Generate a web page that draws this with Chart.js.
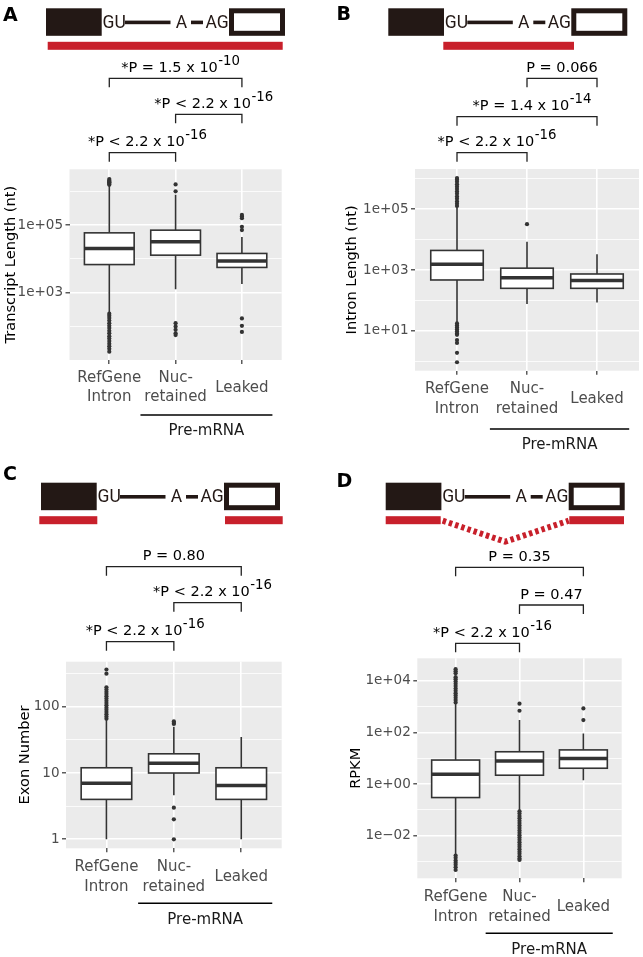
<!DOCTYPE html>
<html>
<head>
<meta charset="utf-8">
<script src="https://cdn.jsdelivr.net/npm/chart.js@4.4.1/dist/chart.umd.min.js"></script>
<style>
  html, body { margin: 0; padding: 0; background: #fff; }
  #figure { position: relative; width: 643px; height: 957px; overflow: hidden; }
  #figure canvas { position: absolute; left: 0; top: 0; }
</style>
</head>
<body>
<div id="figure">
  <canvas id="panelA" width="643" height="957"></canvas>
  <canvas id="panelB" width="643" height="957"></canvas>
  <canvas id="panelC" width="643" height="957"></canvas>
  <canvas id="panelD" width="643" height="957"></canvas>
</div>
<script>
// Categories shared by all four panels
const categoryLabels = [['RefGene', 'Intron'], ['Nuc-', 'retained'], ['Leaked']];

// A - transcript length (nt)
const transcriptLow = [263, 1260, 1820];
const transcriptQ1 = [6800, 12900, 5600];
const transcriptMedian = [20400, 32400, 8700];
const transcriptQ3 = [59000, 70800, 14500];
const transcriptHigh = [1.5e6, 7.9e5, 44700];
const transcriptOutliers = [
    [1.55e6, 1.65e6, 1.75e6, 1.85e6, 1.95e6, 2.1e6, 2.3e6,
     240, 210, 180, 150, 125, 105, 90, 75, 63, 52, 44, 37, 31, 26, 22, 18],
    [1.0e6, 1.6e6, 126, 100, 80, 63, 56],
    [7.1e4, 8.9e4, 1.6e5, 1.8e5, 2.0e5, 174, 105, 69]
];
const transcriptTicks = [1e3, 1e5];
const transcriptTickLabels = ['1e+03', '1e+05'];
const transcriptMinor = [1e2, 1e4, 1e6];
const transcriptTests = [[1, 3, '*P = 1.5 x 10', '-10'], [2, 3, '*P < 2.2 x 10', '-16'], [1, 2, '*P < 2.2 x 10', '-16']];

// B - intron length (nt)
const intronLow = [19, 76, 85];
const intronQ1 = [470, 250, 250];
const intronMedian = [1550, 560, 450];
const intronQ3 = [4400, 1150, 740];
const intronHigh = [1.1e5, 8500, 3300];
const intronOutliers = [
    [1.26e5, 1.5e5, 1.8e5, 2.2e5, 2.6e5, 3.2e5, 3.8e5, 4.6e5, 5.5e5, 6.6e5, 7.9e5, 9.3e5, 1.05e6,
     17.5, 15, 13, 11, 9.5, 8.2, 7.4, 5, 4, 1.9, 0.93],
    [3.2e4],
    []
];
const intronTicks = [10, 1e3, 1e5];
const intronTickLabels = ['1e+01', '1e+03', '1e+05'];
const intronMinor = [1, 100, 1e4, 1e6];
const intronTests = [[2, 3, 'P = 0.066', ''], [1, 3, '*P = 1.4 x 10', '-14'], [1, 2, '*P < 2.2 x 10', '-16']];

// C - exon number
const exonLow = [1, 4.6, 1];
const exonQ1 = [4, 10, 4];
const exonMedian = [7, 14, 6.5];
const exonQ3 = [12, 19.5, 12];
const exonHigh = [63, 50, 35];
const exonOutliers = [
    [66, 71, 77, 83, 90, 97, 105, 114, 123, 133, 144, 156, 168, 182, 197, 316, 365],
    [55, 57, 60, 3, 2, 1],
    []
];
const exonTicks = [1, 10, 100];
const exonTickLabels = ['1', '10', '100'];
const exonMinor = [3.162, 31.62, 316.2];
const exonTests = [[1, 3, 'P = 0.80', ''], [2, 3, '*P < 2.2 x 10', '-16'], [1, 2, '*P < 2.2 x 10', '-16']];

// D - RPKM
const rpkmLow = [0.0019, 0.1, 1.4];
const rpkmQ1 = [0.3, 2.2, 4.1];
const rpkmMedian = [2.4, 7.8, 9.8];
const rpkmQ3 = [8.5, 17.8, 21];
const rpkmHigh = [1300, 300, 91];
const rpkmOutliers = [
    [1450, 1800, 2200, 2700, 3300, 4100, 5000, 6200, 7600, 9300, 11500, 13800, 19500, 23400, 28000,
     0.0017, 0.0014, 0.0011, 0.0009, 0.00075, 0.0006, 0.00047],
    [690, 1300, 0.088, 0.072, 0.058, 0.047, 0.038, 0.031, 0.025, 0.02, 0.016, 0.013, 0.0105,
     0.0085, 0.0069, 0.0056, 0.0045, 0.0037, 0.003, 0.0024, 0.002, 0.0016, 0.0013, 0.00115],
    [300, 850]
];
const rpkmTicks = [0.01, 1, 100, 1e4];
const rpkmTickLabels = ['1e\u221202', '1e+00', '1e+02', '1e+04'];
const rpkmMinor = [1e-3, 0.1, 10, 1000];
const rpkmTests = [[1, 3, 'P = 0.35', ''], [2, 3, 'P = 0.47', ''], [1, 2, '*P < 2.2 x 10', '-16']];

const FONT = '"DejaVu Sans", Verdana, sans-serif';
const INK = '#231815';
const RED = '#C8202B';
const BOX = '#333333';
const X_AXIS_H = 60;
const TITLE_SIZE = 14.6;

// Gene model cartoon above each panel
function drawDiagram(ctx, d) {
    const L = d.x, T = d.y;
    ctx.save();
    ctx.fillStyle = INK;
    ctx.fillRect(L, T, 55.7, 27.5);
    ctx.strokeStyle = INK;
    ctx.lineWidth = 5;
    ctx.strokeRect(L + 183 + 2.5, T + 2.5, 56 - 5, 27.5 - 5);
    ctx.font = '17.5px Roboto';
    ctx.textBaseline = 'middle';
    ctx.textAlign = 'left';
    ctx.fillText('GU', L + 56.5, T + 15);
    ctx.fillRect(L + 79, T + 12.3, 45.5, 3.6);
    ctx.textAlign = 'center';
    ctx.fillText('A', L + 135.5, T + 15);
    ctx.fillRect(L + 145, T + 12.3, 12, 3.6);
    ctx.textAlign = 'left';
    ctx.fillText('AG', L + 159.5, T + 15);
    ctx.fillStyle = RED;
    d.red.forEach(([a, b]) => ctx.fillRect(L + a, T + 33.5, b - a, 8));
    if (d.spliced) {
        ctx.strokeStyle = RED;
        ctx.lineWidth = 6;
        ctx.setLineDash([3.5, 3]);
        ctx.beginPath();
        ctx.moveTo(L + 57, T + 38);
        ctx.lineTo(L + 119.5, T + 59);
        ctx.lineTo(L + 183, T + 38);
        ctx.stroke();
    }
    ctx.restore();
}

function drawPText(ctx, cx, baseY, main, sup) {
    ctx.font = '14.5px ' + FONT;
    const w1 = ctx.measureText(main).width;
    ctx.font = '13.3px ' + FONT;
    const w2 = sup ? ctx.measureText(sup).width + 0.5 : 0;
    const left = cx - (w1 + w2) / 2 + (sup ? 5 : 0);
    ctx.textAlign = 'left';
    ctx.textBaseline = 'alphabetic';
    ctx.font = '14.5px ' + FONT;
    ctx.fillText(main, left, baseY);
    if (sup) {
        ctx.font = '13.3px ' + FONT;
        ctx.fillText(sup, left + w1 + 0.5, baseY - 7);
    }
}

const decor = {
    id: 'decor',
    beforeDraw(chart) {
        const {ctx, chartArea: a} = chart;
        ctx.save();
        ctx.fillStyle = '#EBEBEB';
        ctx.fillRect(a.left, a.top, a.right - a.left, a.bottom - a.top);
        ctx.restore();
    },
    beforeDatasetsDraw(chart, args, o) {
        const {ctx, scales: {x, y}} = chart;
        const s = o.stats;
        ctx.save();
        ctx.strokeStyle = BOX;
        s.median.forEach((m, i) => {
            const cx = x.getPixelForValue(i + 1);
            const x0 = x.getPixelForValue(i + 1 - 0.375);
            const x1 = x.getPixelForValue(i + 1 + 0.375);
            const yLo = y.getPixelForValue(s.low[i]);
            const yQ1 = y.getPixelForValue(s.q1[i]);
            const yMed = y.getPixelForValue(m);
            const yQ3 = y.getPixelForValue(s.q3[i]);
            const yHi = y.getPixelForValue(s.high[i]);
            ctx.lineWidth = 1.6;
            ctx.beginPath();
            ctx.moveTo(cx, yLo); ctx.lineTo(cx, yQ1);
            ctx.moveTo(cx, yQ3); ctx.lineTo(cx, yHi);
            ctx.stroke();
            ctx.fillStyle = '#fff';
            ctx.fillRect(x0, yQ3, x1 - x0, yQ1 - yQ3);
            ctx.strokeRect(x0, yQ3, x1 - x0, yQ1 - yQ3);
            ctx.lineWidth = 3.5;
            ctx.beginPath();
            ctx.moveTo(x0, yMed); ctx.lineTo(x1, yMed);
            ctx.stroke();
        });
        ctx.restore();
    },
    afterDraw(chart, args, o) {
        const {ctx, scales: {x}} = chart;
        ctx.save();
        // panel letter
        ctx.fillStyle = '#000';
        ctx.font = 'bold 19px ' + FONT;
        ctx.textAlign = 'left';
        ctx.textBaseline = 'alphabetic';
        ctx.fillText(o.letter, o.letterX, o.letterY);
        drawDiagram(ctx, o.diagram);

        // significance brackets
        ctx.strokeStyle = '#222';
        ctx.fillStyle = '#000';
        ctx.lineWidth = 1.3;
        o.tests.forEach(([g1, g2, main, sup], k) => {
            const xa = x.getPixelForValue(g1);
            const xb = x.getPixelForValue(g2);
            const by = o.bracketY[k];
            ctx.beginPath();
            ctx.moveTo(xa, by + 9); ctx.lineTo(xa, by); ctx.lineTo(xb, by); ctx.lineTo(xb, by + 9);
            ctx.stroke();
            drawPText(ctx, (xa + xb) / 2, by - 6.5, main, sup);
        });

        // Pre-mRNA grouping line
        const p0 = x.getPixelForValue(1.47), p1 = x.getPixelForValue(3.46);
        ctx.strokeStyle = '#000';
        ctx.lineWidth = 1.5;
        ctx.beginPath();
        ctx.moveTo(p0, o.preY); ctx.lineTo(p1, o.preY);
        ctx.stroke();
        ctx.font = '15px ' + FONT;
        ctx.textAlign = 'center';
        ctx.textBaseline = 'middle';
        ctx.fillStyle = '#1a1a1a';
        ctx.fillText('Pre-mRNA', (p0 + p1) / 2, o.preY + 16.5);
        ctx.restore();
    }
};

function makePanel(p) {
    const titleLH = TITLE_SIZE * 1.2;
    const yW = p.area.l - (p.titleX - titleLH / 2);
    const allTicks = p.majors.concat(p.minors).sort((a, b) => a - b);
    const isMajor = (c) => c.tick && p.majors.includes(c.tick.value);
    const points = p.outliers.flatMap((vals, i) => vals.map(v => ({x: i + 1, y: v})));

    new Chart(document.getElementById(p.id), {
        type: 'scatter',
        data: {
            datasets: [{
                data: points,
                pointRadius: 2.1,
                pointBackgroundColor: BOX,
                pointBorderWidth: 0
            }]
        },
        plugins: [decor],
        options: {
            responsive: false,
            animation: false,
            devicePixelRatio: 1,
            events: [],
            layout: {
                padding: {
                    left: p.area.l - yW,
                    top: p.area.t,
                    right: 643 - p.area.r,
                    bottom: 957 - p.area.b - X_AXIS_H
                }
            },
            plugins: {
                legend: {display: false},
                tooltip: {enabled: false},
                decor: {
                    stats: p.stats,
                    letter: p.letter, letterX: p.letterX, letterY: p.letterY,
                    diagram: p.diagram,
                    tests: p.tests,
                    bracketY: p.bracketY,
                    preY: p.preY
                }
            },
            scales: {
                x: {
                    type: 'linear',
                    min: 0.4,
                    max: 3.6,
                    bounds: 'data',
                    afterBuildTicks: (s) => { s.ticks = [1, 2, 3].map(v => ({value: v})); },
                    afterFit: (s) => { s.height = X_AXIS_H; },
                    border: {display: false},
                    grid: {
                        color: '#ffffff',
                        lineWidth: 1.6,
                        tickColor: BOX,
                        tickWidth: 1.2,
                        tickLength: 4
                    },
                    ticks: {
                        autoSkip: false,
                        maxRotation: 0,
                        padding: 18.4 - 4 - 7.5 * p.lineHeight,
                        color: '#4D4D4D',
                        font: (c) => ({
                            family: FONT,
                            size: 15,
                            lineHeight: categoryLabels[c.index] && categoryLabels[c.index].length === 1 ? p.lineHeight * 2 : p.lineHeight
                        }),
                        callback: (v) => categoryLabels[v - 1]
                    }
                },
                y: {
                    type: 'logarithmic',
                    min: p.yRange[0],
                    max: p.yRange[1],
                    bounds: 'data',
                    afterBuildTicks: (s) => { s.ticks = allTicks.map(v => ({value: v})); },
                    afterFit: (s) => { s.width = yW; },
                    border: {display: false},
                    grid: {
                        color: '#ffffff',
                        lineWidth: (c) => isMajor(c) ? 1.6 : 0.8,
                        tickColor: (c) => isMajor(c) ? BOX : 'rgba(0,0,0,0)',
                        tickWidth: 1.2,
                        tickLength: 4
                    },
                    ticks: {
                        autoSkip: false,
                        padding: 2.5,
                        color: '#4D4D4D',
                        font: {family: FONT, size: 13.5},
                        callback: (v) => {
                            const i = p.majors.indexOf(v);
                            return i >= 0 ? p.majorLabels[i] : '';
                        }
                    },
                    title: {
                        display: true,
                        text: p.title,
                        color: '#000',
                        padding: 0,
                        font: {family: FONT, size: TITLE_SIZE}
                    }
                }
            }
        }
    });
}

makePanel({
    id: 'panelA', letter: 'A', letterX: 3, letterY: 20.5,
    area: {l: 69.5, t: 169.3, r: 281.7, b: 360}, yRange: [10.23, 4.47e6],
    titleX: 10.8, lineHeight: 1.23, title: 'Transcript Length (nt)',
    majors: transcriptTicks, majorLabels: transcriptTickLabels, minors: transcriptMinor,
    stats: {low: transcriptLow, q1: transcriptQ1, median: transcriptMedian, q3: transcriptQ3, high: transcriptHigh},
    outliers: transcriptOutliers,
    diagram: {x: 46, y: 8.3, red: [[1.7, 236.7]], spliced: false},
    tests: transcriptTests, bracketY: [78.3, 114.3, 152.7], preY: 415
});

makePanel({
    id: 'panelB', letter: 'B', letterX: 336.5, letterY: 20,
    area: {l: 415, t: 169, r: 639, b: 370.7}, yRange: [0.49, 2.09e6],
    titleX: 352, lineHeight: 1.33, title: 'Intron Length (nt)',
    majors: intronTicks, majorLabels: intronTickLabels, minors: intronMinor,
    stats: {low: intronLow, q1: intronQ1, median: intronMedian, q3: intronQ3, high: intronHigh},
    outliers: intronOutliers,
    diagram: {x: 388.3, y: 8.3, red: [[55, 185.7]], spliced: false},
    tests: intronTests, bracketY: [78.3, 116.7, 152.7], preY: 429
});

makePanel({
    id: 'panelC', letter: 'C', letterX: 3, letterY: 480,
    area: {l: 66, t: 661.7, r: 281.7, b: 848.3}, yRange: [0.731, 478.6],
    titleX: 25, lineHeight: 1.33, title: 'Exon Number',
    majors: exonTicks, majorLabels: exonTickLabels, minors: exonMinor,
    stats: {low: exonLow, q1: exonQ1, median: exonMedian, q3: exonQ3, high: exonHigh},
    outliers: exonOutliers,
    diagram: {x: 41, y: 482.7, red: [[-1.7, 56.3], [184, 241.7]], spliced: false},
    tests: exonTests, bracketY: [566.7, 602.7, 641.7], preY: 903.3
});

makePanel({
    id: 'panelD', letter: 'D', letterX: 336.5, letterY: 486.5,
    area: {l: 417.3, t: 658.3, r: 621.7, b: 878.3}, yRange: [2.24e-4, 7.41e4],
    titleX: 356.7, lineHeight: 1.33, title: 'RPKM',
    majors: rpkmTicks, majorLabels: rpkmTickLabels, minors: rpkmMinor,
    stats: {low: rpkmLow, q1: rpkmQ1, median: rpkmMedian, q3: rpkmQ3, high: rpkmHigh},
    outliers: rpkmOutliers,
    diagram: {x: 385.7, y: 482.7, red: [[0, 55], [183.6, 238.3]], spliced: true},
    tests: rpkmTests, bracketY: [567.3, 605, 643.3], preY: 933.3
});
</script>
</body>
</html>
